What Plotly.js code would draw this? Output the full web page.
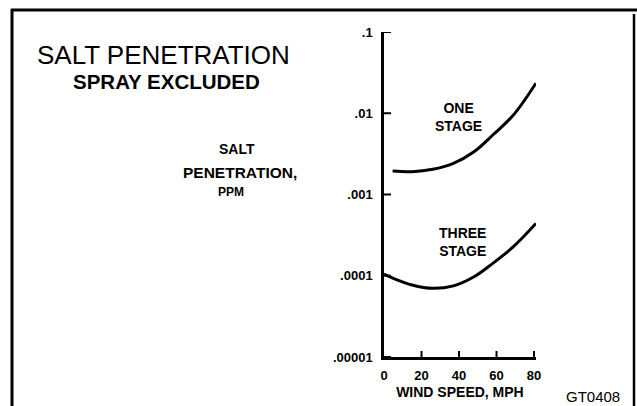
<!DOCTYPE html>
<html>
<head>
<meta charset="utf-8">
<script src="https://cdn.plot.ly/plotly-3.0.1.min.js"></script>
<style>html,body{margin:0;padding:0;background:#fff;}#chart{width:637px;height:406px;}</style>
</head>
<body>
<div id="chart"></div>
<script>
// Data
const windSpeed = [4.6, 15, 26, 37, 48, 58, 69, 81];
const oneStage = [0.00195, 0.00191, 0.00204, 0.00242, 0.00336, 0.0054, 0.0095, 0.0234];
const windSpeed3 = [0, 5, 15, 26, 37, 48, 58, 69, 81];
const threeStage = [0.000105, 0.000093, 0.000077, 0.000070, 0.000075, 0.000097, 0.000142, 0.000228, 0.00044];
const yTickVals = [0.00001, 0.0001, 0.001, 0.01, 0.1];
const yTickText = ['.00001', '.0001', '.001', '.01', '.1'];
const xTickVals = [0, 20, 40, 60, 80];
const xTickText = ['0', '20', '40', '60', '80'];

const W = 637, H = 406;
const px = x => x / W;
const py = y => 1 - y / H;
const FONT = 'Liberation Sans, Arial, sans-serif';
const X_MIN = 0, Y_MIN = 0.00001;

const traces = [
  {x: windSpeed, y: oneStage, mode: 'lines', line: {color: '#000', width: 3, shape: 'spline'}, hoverinfo: 'skip'},
  {x: windSpeed3, y: threeStage, mode: 'lines', line: {color: '#000', width: 3, shape: 'spline'}, hoverinfo: 'skip'}
];

function ann(text, x, y, size, weight, extra) {
  return Object.assign({text: text, xref: 'paper', yref: 'paper', x: px(x), y: py(y),
    xanchor: 'center', yanchor: 'middle', showarrow: false,
    font: {family: FONT, size: size, color: '#000', weight: weight}}, extra || {});
}

// small inward tick marks, placed through the axes' own scales
const yTickMarks = yTickVals.map(v => ({
  type: 'line', xref: 'x', yref: 'y', xsizemode: 'pixel', xanchor: X_MIN,
  x0: 0, x1: 7, y0: v, y1: v, line: {color: '#000', width: 2}
}));
const xTickMarks = xTickVals.slice(1).map(v => ({
  type: 'line', xref: 'x', yref: 'y', ysizemode: 'pixel', yanchor: Y_MIN,
  y0: 0, y1: 6, x0: v, x1: v, line: {color: '#000', width: 2}
}));

const layout = {
  width: W, height: H,
  margin: {l: 0, r: 0, t: 0, b: 0},
  paper_bgcolor: '#fff', plot_bgcolor: 'rgba(0,0,0,0)',
  showlegend: false,
  xaxis: {
    domain: [px(384), px(535.9)], range: [0, 81],
    tickmode: 'array', tickvals: xTickVals, ticktext: xTickText,
    ticks: '', showline: true, linecolor: '#000', linewidth: 2.5,
    showgrid: false, zeroline: false,
    tickfont: {family: FONT, size: 13, color: '#000', weight: 'bold'},
    ticklabelstandoff: 5,
    title: {text: 'WIND SPEED, MPH', font: {family: FONT, size: 14, color: '#000', weight: 'bold'}, standoff: 5}
  },
  yaxis: {
    domain: [py(357), py(32)], type: 'log', range: [-5, -1],
    tickmode: 'array', tickvals: yTickVals, ticktext: yTickText,
    ticks: '', showline: true, linecolor: '#000', linewidth: 2.5,
    showgrid: false, zeroline: false,
    tickfont: {family: FONT, size: 13, color: '#000', weight: 'bold'},
    ticklabelstandoff: 6
  },
  shapes: [
    {type: 'line', xref: 'paper', yref: 'paper', x0: px(12), x1: px(12), y0: py(9), y1: py(406), line: {color: '#000', width: 3}},
    {type: 'line', xref: 'paper', yref: 'paper', x0: px(11), x1: px(637), y0: py(10), y1: py(10), line: {color: '#000', width: 3}},
    {type: 'line', xref: 'paper', yref: 'paper', x0: px(634), x1: px(634), y0: py(14), y1: py(406), line: {color: '#000', width: 2.5}}
  ].concat(yTickMarks, xTickMarks),
  annotations: [
    ann('SALT PENETRATION', 163, 55, 26, 'normal'),
    ann('SPRAY EXCLUDED', 166, 81.5, 20.5, 'bold'),
    ann('SALT', 237, 149, 14, 'bold'),
    ann('PENETRATION,', 240, 172.5, 15.5, 'bold'),
    ann('PPM', 231, 191.5, 12, 'bold'),
    ann('ONE<br>STAGE', 459, 117, 14, 'bold'),
    ann('THREE<br>STAGE', 462, 241.5, 14, 'bold'),
    ann('GT0408', 593, 396, 15, 'normal')
  ]
};

Plotly.newPlot('chart', traces, layout, {displayModeBar: false});
</script>
</body>
</html>
